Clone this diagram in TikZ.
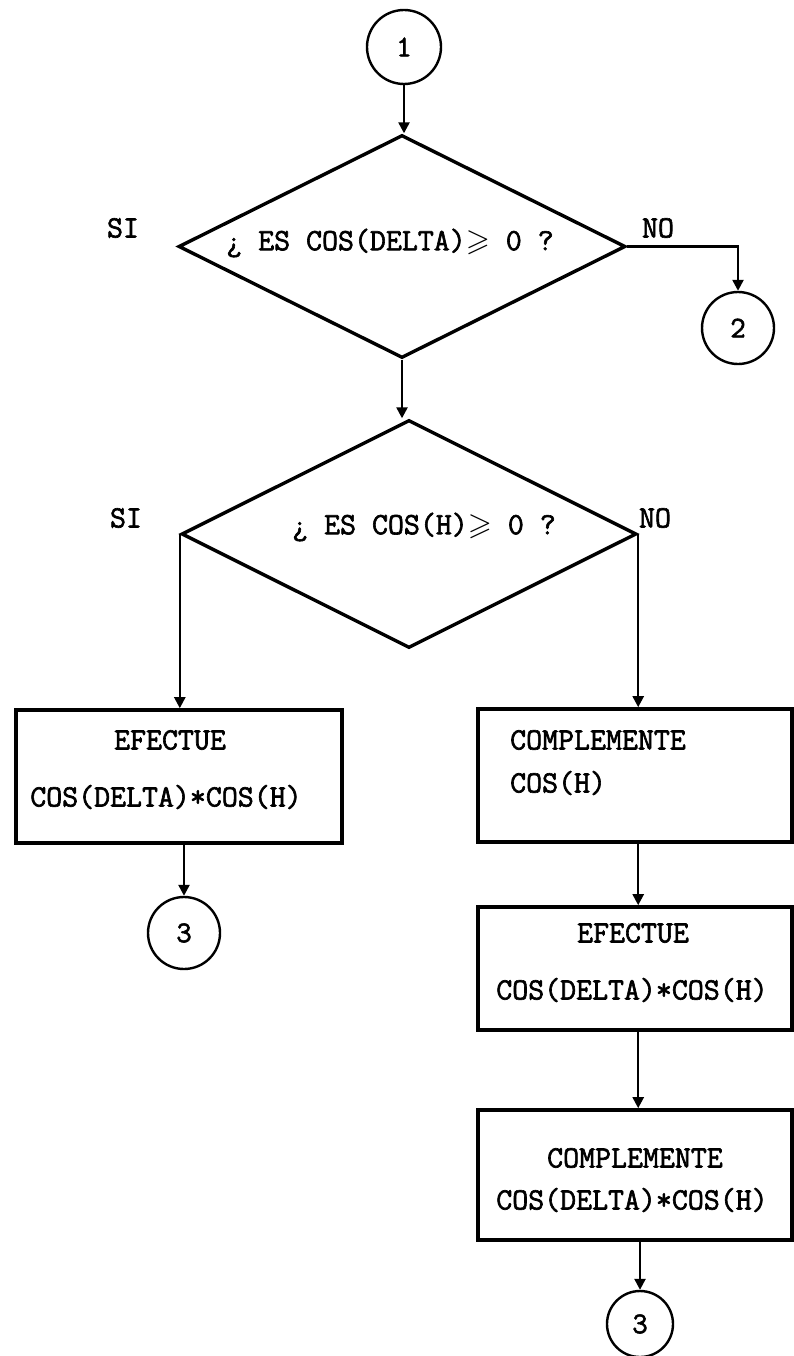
\documentclass[tikz,border=0pt]{standalone}
\usepackage{amssymb}
\usepackage{fontspec}
\newfontfamily\twfont[FakeBold=2]{Latin Modern Mono}
\usetikzlibrary{shapes.geometric,arrows.meta}
\begin{document}
\begin{tikzpicture}[x=1pt,y=-1pt,
  txt/.style={font=\fontsize{31}{36}\selectfont\twfont, inner sep=0pt},
  dig/.style={font=\fontsize{30}{34}\selectfont\twfont},
  conn/.style={line width=2.4pt,-{Triangle[length=11pt,width=11pt]}},
  dec/.style={draw,diamond,line width=3.4pt,inner sep=0pt},
  proc/.style={draw,rectangle,line width=3.6pt,inner sep=0pt},
  conc/.style={draw,circle,line width=2.4pt,inner sep=0pt}]
\useasboundingbox (0,0) rectangle (794,1356);

% connectors circles
\node[conc, minimum size=74pt, dig] (c1) at (404,47) {1};
\node[conc, minimum size=72pt, dig] (c2) at (738,328) {2};
\node[conc, minimum size=72pt, dig] (c3a) at (184,933) {3};
\node[conc, minimum size=66pt, dig] (c3b) at (640,1324) {3};

% decisions
\node[dec, minimum width=447pt, minimum height=223pt] (d1) at (402,246.5) {};
\node[txt] (d1t) at (390,243) {¿ ES COS(DELTA)$\geqslant$ 0 ?};
\node[dec, minimum width=455pt, minimum height=228pt] (d2) at (409,534) {};
\node[txt] (d2t) at (424,527) {¿ ES COS(H)$\geqslant$ 0 ?};

% labels
\node[txt] (si1) at (123,228) {SI};
\node[txt] (no1) at (658,228) {NO};
\node[txt] (si2) at (126,518) {SI};
\node[txt] (no2) at (655,518) {NO};

% processes
\node[proc, minimum width=326pt, minimum height=133pt] (r1) at (179,776.5) {};
\node[txt] (r1a) at (170,740) {EFECTUE};
\node[txt] (r1b) at (166,797) {COS(DELTA)*COS(H)};

\node[proc, minimum width=314pt, minimum height=133pt] (r2) at (635,775.5) {};
\node[txt, anchor=west] (r2a) at (510,740) {COMPLEMENTE};
\node[txt, anchor=west] (r2b) at (510,783) {COS(H)};

\node[proc, minimum width=314pt, minimum height=123pt] (r3) at (635,968.5) {};
\node[txt] (r3a) at (633,933) {EFECTUE};
\node[txt] (r3b) at (632,990) {COS(DELTA)*COS(H)};

\node[proc, minimum width=314pt, minimum height=130pt] (r4) at (635,1175) {};
\node[txt] (r4a) at (635,1158) {COMPLEMENTE};
\node[txt] (r4b) at (632,1200) {COS(DELTA)*COS(H)};

% flow
\draw[conn] (c1.south) -- (c1.south |- d1.north);
\draw[conn] (d1.east) -| (c2.north);
\draw[conn] (d1.south) -- (d1.south |- d2.north);
\draw[conn] (d2.west) -- (d2.west |- r1.north);
\draw[conn] (d2.east) -- (d2.east |- r2.north);
\draw[conn] (c3a |- r1.south) -- (c3a.north);
\draw[conn] (d2.east |- r2.south) -- (d2.east |- r3.north);
\draw[conn] (d2.east |- r3.south) -- (d2.east |- r4.north);
\draw[conn] (c3b |- r4.south) -- (c3b.north);
\end{tikzpicture}
\end{document}
